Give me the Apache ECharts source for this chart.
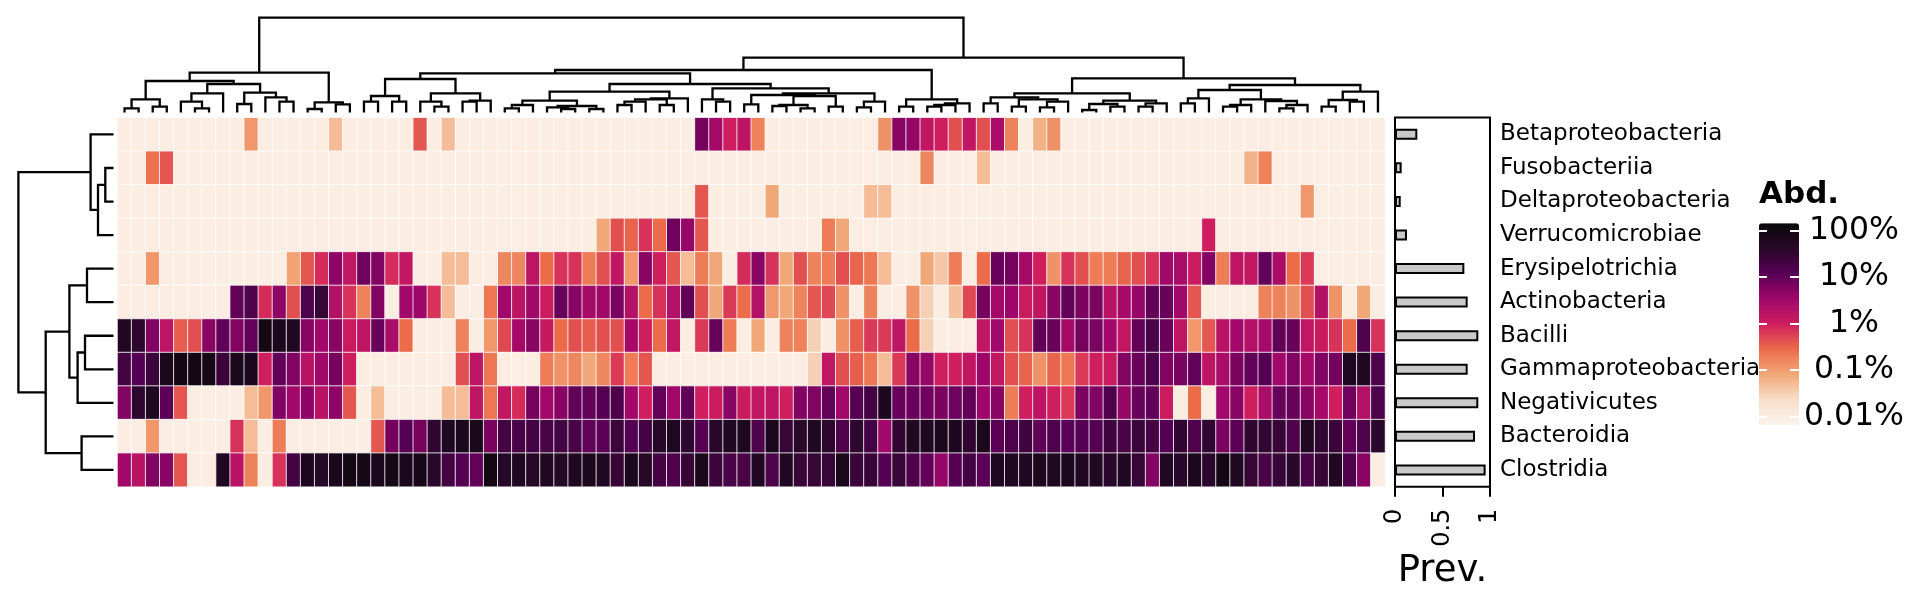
<!DOCTYPE html>
<html><head><meta charset="utf-8">
<script src="https://cdn.jsdelivr.net/npm/echarts@6/dist/echarts.min.js"></script>
<style>html,body{margin:0;padding:0;background:#fff}#c{width:1920px;height:600px}</style>
</head><body><div id="c"></div>
<script>
// ---------- data ----------
const classNames = ['Betaproteobacteria','Fusobacteriia','Deltaproteobacteria','Verrucomicrobiae','Erysipelotrichia','Actinobacteria','Bacilli','Gammaproteobacteria','Negativicutes','Bacteroidia','Clostridia'];
const prevalence = [0.235, 0.07, 0.06, 0.126, 0.73, 0.765, 0.877, 0.765, 0.877, 0.842, 0.954];

// log10(relative abundance in %), -2 = 0.01% ... 2 = 100%, columns in dendrogram order
const betaproteobacteria = [-2,-2,-2,-2,-2,-2,-2,-2,-2,-0.95, -2,-2,-2,-2,-2,-1.3,-2,-2,-2,-2, -2,-0.4,-2,-1.3,-2,-2,-2,-2,-2,-2, -2,-2,-2,-2,-2,-2,-2,-2,-2,-2, -2,0.85,0.45,0,0.2,-0.75,-2,-2,-2,-2, -2,-2,-2,-2,-0.9,0.7,0.6,0.15,0,-0.35, 0.15,-0.35,0.4,-0.75,-2,-1.2,-0.9,-2,-2,-2, -2,-2,-2,-2,-2,-2,-2,-2,-2,-2, -2,-2,-2,-2,-2,-2,-2,-2,-2,-2];
const fusobacteriia = [-2,-2,-0.6,-0.4,-2,-2,-2,-2,-2,-2, -2,-2,-2,-2,-2,-2,-2,-2,-2,-2, -2,-2,-2,-2,-2,-2,-2,-2,-2,-2, -2,-2,-2,-2,-2,-2,-2,-2,-2,-2, -2,-2,-2,-2,-2,-2,-2,-2,-2,-2, -2,-2,-2,-2,-2,-2,-2,-0.8,-2,-2, -2,-1.3,-2,-2,-2,-2,-2,-2,-2,-2, -2,-2,-2,-2,-2,-2,-2,-2,-2,-2, -1.2,-0.75,-2,-2,-2,-2,-2,-2,-2,-2];
const deltaproteobacteria = [-2,-2,-2,-2,-2,-2,-2,-2,-2,-2, -2,-2,-2,-2,-2,-2,-2,-2,-2,-2, -2,-2,-2,-2,-2,-2,-2,-2,-2,-2, -2,-2,-2,-2,-2,-2,-2,-2,-2,-2, -2,-0.4,-2,-2,-2,-2,-1.1,-2,-2,-2, -2,-2,-2,-1.3,-1.3,-2,-2,-2,-2,-2, -2,-2,-2,-2,-2,-2,-2,-2,-2,-2, -2,-2,-2,-2,-2,-2,-2,-2,-2,-2, -2,-2,-2,-2,-0.95,-2,-2,-2,-2,-2];
const verrucomicrobiae = [-2,-2,-2,-2,-2,-2,-2,-2,-2,-2, -2,-2,-2,-2,-2,-2,-2,-2,-2,-2, -2,-2,-2,-2,-2,-2,-2,-2,-2,-2, -2,-2,-2,-2,-1.1,-0.35,-0.5,-0.15,-0.55,0.9, 0.6,-0.4,-2,-2,-2,-2,-2,-2,-2,-2, -0.7,-1.1,-2,-2,-2,-2,-2,-2,-2,-2, -2,-2,-2,-2,-2,-2,-2,-2,-2,-2, -2,-2,-2,-2,-2,-2,-2,0,-2,-2, -2,-2,-2,-2,-2,-2,-2,-2,-2,-2];
const erysipelotrichia = [-2,-2,-0.95,-2,-2,-2,-2,-2,-2,-2, -2,-2,-1.05,-0.4,-0.1,0.65,0.15,0.9,0.75,-0.1, 0.15,-2,-2,-1.3,-1.3,-2,-2,-0.8,-0.8,0.2, -0.55,-0.15,-0.15,-0.7,-0.35,0.15,-0.95,0.7,0,-0.4, -1.3,-0.7,-1.1,-2,-0.1,0.7,-0.15,-1.1,-0.35,-0.75, -0.7,-0.35,-0.5,-0.65,-1.3,-2,-2,-1.1,-1.4,-0.7, -2,-0.55,0.95,0.85,0.45,0,-0.9,-0.15,-0.35,-0.7, -0.7,-0.5,-0.35,-0.15,0.5,0.4,0.05,0.75,-0.7,0.2, 0.15,1.0,0.4,-0.55,-0.2,-2,-2,-2,-2,-2];
const actinobacteria = [-2,-2,-2,-2,-2,-2,-2,-2,1.0,1.2, -0.1,0.65,-0.35,1.2,1.45,0.3,-0.15,-0.75,0.75,-2, 0.5,0.55,-0.15,-1.3,-2,-2,-0.65,0.5,0.2,0.5, 0.05,0.95,0.7,0.45,0.5,0.8,0.3,-0.55,-0.15,0.3, 1.0,-0.35,-1.1,-0.2,-0.55,0.3,-0.95,-1.1,-0.75,-0.4, -0.3,-0.9,-2,-0.75,-2,-2,-0.9,-1.5,-2,-1.35, -0.3,0.85,0.45,0.55,0.05,0.15,0.7,1.0,0.8,0.8, 0.25,0.45,0.6,1.0,0.95,0.5,-0.4,-2,-2,-2, -2,-0.75,-0.75,-0.9,-0.35,0.3,-0.9,-2,-1.1,-2];
const bacilli = [1.75,1.55,0.75,0.2,-0.45,-0.35,0.7,1.0,0.75,1.0, 2.0,1.85,1.75,0.7,0.5,0.7,0.05,0.2,0.95,0.4, -0.55,-2,-2,-2,-0.75,-2,-0.95,-0.3,0.45,0.7, 0.1,-0.55,-0.35,-0.45,-0.35,-0.35,0.45,0,-0.55,0.15, -2,-0.2,0.95,-0.7,-2,-1.1,-2,-0.75,-0.75,-1.5, -2,-0.9,-0.45,-0.2,-0.2,0.2,-0.55,-1.5,-2,-2, -2,0.15,0.5,-0.35,-0.15,1.0,0.95,0.45,0.85,0.8, 0.5,0.15,1.0,1.25,0.95,0.2,-0.95,-0.4,0.25,0.5, 0.3,0.45,1.0,0.95,0.15,0.05,-0.15,-0.55,1.2,-0.15];
const gammaproteobacteria = [1.3,1.1,1.4,1.85,2.0,2.0,1.95,1.4,1.85,1.8, 0,1.0,0.75,0.25,0.5,0.85,0,-2,-2,-2, -2,-2,-2,-2,-0.35,0.2,-0.65,-2,-2,-2, -0.7,-0.9,-0.8,-1.1,-0.8,-0.2,-0.7,-0.4,-2,-2, -2,-2,-2,-2,-2,-2,-2,-2,-2,-1.5, 0.15,-0.35,-0.45,-0.65,-1.3,-0.2,0.7,0.6,0,0, 0.15,0.55,0.15,-0.35,-0.5,-0.9,-0.5,-0.65,-0.2,0, 0.05,0.75,0.95,1.2,0.75,0.8,1.0,0.2,0.4,0.8, 1.0,1.1,0.5,0.75,0.45,0.75,0.85,1.75,1.75,1.2];
const negativicutes = [0.75,1.55,1.75,1.05,-0.4,-2,-2,-2,-2,-1.3, -0.95,0.75,0.5,0.65,0.25,0.65,-0.4,-2,-1.3,-2, -2,-2,-2,-1.3,-1.3,0.2,-0.65,0.15,-0.1,0.85, 0.5,0.7,1.0,1.0,1.1,1.2,0.5,0,1.0,0.5, 1.0,0,0.05,0.7,0.05,0.15,0.2,0,0.75,0.75, 1.0,0.5,1.1,1.3,1.8,0.95,0.95,0.9,0.8,0.9, 1.0,0.55,0.7,-0.7,0,0.2,0,-0.2,0.8,0.75, 1.2,0.6,0.95,1.0,0.05,-2,-0.55,-2,0.5,0.7, 0,0.4,0.95,0.95,0.7,0.45,0,0.9,0.3,1.2];
const bacteroidia = [-2,-2,-0.95,-2,-2,-2,-2,-2,-0.15,-1.3, -2,-0.7,-2,-2,-2,-2,-2,-2,-0.4,0.85, 1.1,0.85,1.5,1.75,1.85,1.85,0.8,1.3,1.25,1.3, 1.25,1.3,1.25,1.0,1.05,1.4,1.1,1.3,1.65,1.75, 1.55,1.1,1.6,1.75,1.8,1.2,1.85,1.45,1.6,1.75, 1.55,1.2,1.55,1.3,0.5,1.5,1.75,1.8,1.85,1.8, 1.5,1.85,1.05,1.2,1.35,1.0,1.2,1.05,1.1,1.1, 1.35,1.25,1.4,1.3,1.1,1.5,1.2,1.5,0.8,1.05, 1.5,1.5,1.45,1.2,1.75,1.5,1.4,1.0,1.2,1.6];
const clostridia = [0.5,0.25,0.75,0.7,-0.4,-2,-2,1.75,0.25,-0.75, -2,-0.15,1.3,1.8,1.65,1.85,2.0,1.95,1.85,1.95, 1.85,1.95,1.6,1.3,1.1,1.0,2.0,1.65,1.75,1.65, 1.75,1.65,1.75,1.85,1.75,1.45,1.85,1.65,1.3,1.2, 1.45,1.85,1.4,1.25,1.25,1.75,1.2,1.75,1.45,1.45, 1.45,1.85,1.4,1.45,1.1,1.45,1.2,1.0,0.6,1.1, 1.3,1.05,1.75,1.75,1.75,1.85,1.75,1.85,1.75,1.75, 1.6,1.75,1.45,0.75,1.75,1.6,1.85,1.6,2.0,1.75, 1.45,1.25,1.45,1.6,1.25,1.45,1.75,1.2,0.7,-2];

const abundanceRows = [betaproteobacteria, fusobacteriia, deltaproteobacteria, verrucomicrobiae, erysipelotrichia, actinobacteria, bacilli, gammaproteobacteria, negativicutes, bacteroidia, clostridia];
const sampleIds = betaproteobacteria.map((_, i) => 'S' + (i + 1));

const abundanceTicks = [2, 1, 0, -1, -2];
const abundanceTickLabels = ['100%', '10%', '1%', '0.1%', '0.01%'];
const prevTicks = [0, 0.5, 1];

// hclust-style merges: negative = leaf (1-based), positive = earlier merge (1-based); third = height
const sampleMerges = [
 [-1,-2,4.2],[-3,-4,5.8],[1,2,13.2],[-6,-7,4.2],[-5,4,10.8],[5,-8,19.2],[-9,-10,8.5],[-12,-13,10.8],[-11,8,15.2],[7,9,19.8],
 [6,10,28.5],[3,11,31.5],[-14,-15,3.5],[-16,-17,8.2],[13,14,10.2],[12,15,39.8],
 [-18,-19,10.8],[-20,-21,10.8],[17,18,16.5],[-23,-24,5.8],[-22,20,10.8],[-25,-26,10.8],[22,-27,11.8],[21,23,19.2],[19,24,33.5],
 [-28,-29,4.2],[26,-30,7.5],[-32,-33,3.5],[-31,28,5.2],[-34,-35,3.5],[29,30,6.5],[27,31,11.8],
 [-36,-37,7.5],[33,-38,10.8],[-39,-40,7.5],[34,35,13.2],[36,-41,14.2],[32,37,20.8],
 [-43,-44,10.8],[-42,39,13.2],
 [-45,-46,8.2],[-47,-48,6.5],[-49,-50,4.2],[42,43,7.5],[-51,-52,5.8],[44,45,16.5],[41,46,17.5],
 [-53,-54,5.2],[48,-55,10.8],[47,49,19.2],[40,50,24.2],[38,51,28.5],[25,52,39.2],
 [-56,-57,5.8],[-58,-59,5.8],[55,-60,7.5],[56,-61,9.2],[54,57,13.2],[53,58,42.5],
 [-62,-63,9.2],[-64,-65,5.8],[-66,-67,5.2],[62,-68,10.8],[61,63,13.2],[60,64,15.2],
 [-69,-70,2.5],[-71,-72,5.8],[66,67,8.5],[-73,-74,5.8],[69,-75,9.2],[68,70,11.8],[65,71,19.2],
 [-76,-77,9.2],[73,-78,14.2],[-79,-80,5.8],[75,-81,7.5],[-83,-84,4.2],[77,-85,7.5],[-82,78,11.5],[76,79,13.2],[74,80,22.5],
 [-86,-87,5.8],[-88,-89,10.8],[82,83,12.5],[84,-90,20.8],[81,85,27.5],[72,86,34.2],[59,87,54.8],[16,88,94.8]
];
const classMerges = [
 [-2,-3,8.2],[1,-4,15.5],[-1,2,22.9],[-5,-6,26.5],[-7,-8,28.5],[5,-9,35.9],[4,6,44.1],[-10,-11,31.9],[7,8,67.8],[3,9,95.1]
];

// ---------- helpers ----------
function treeSegments(merges) {
  const pos = [], hts = [], segs = [];
  const node = r => r < 0 ? { p: -r - 0.5, h: 0 } : { p: pos[r - 1], h: hts[r - 1] };
  merges.forEach(([a, b, h]) => {
    const A = node(a), B = node(b);
    segs.push([A.p, A.h, B.p, B.h, h]);
    pos.push((A.p + B.p) / 2); hts.push(h);
  });
  return segs;
}
const heatData = [];
abundanceRows.forEach((row, r) => row.forEach((v, c) => heatData.push([c, r, v])));

const FONT = 'DejaVu Sans';
const rampColors = ['#FCF4EC', '#F8DECA', '#F1A878', '#EC6C4A', '#D01E5E', '#9E076A', '#580055', '#28082A', '#0A080A'];
const lineStyle = { stroke: '#000', lineWidth: 2.3, fill: null, lineJoin: 'miter' };

const chart = echarts.init(document.getElementById('c'), null, { renderer: 'canvas' });
chart.setOption({
  animation: false,
  backgroundColor: '#fff',
  textStyle: { fontFamily: FONT, color: '#000' },
  title: { text: 'Abd.', left: 1759, top: 179, padding: 0, textStyle: { fontFamily: FONT, fontSize: 31, fontWeight: 'bold', color: '#000' } },
  grid: [
    { left: 117.5, top: 117.7, width: 1267.5, height: 369, outerBoundsMode: 'none' },
    { left: 117.5, top: 17.7, width: 1267.5, height: 94.8, outerBoundsMode: 'none' },
    { left: 18.4, top: 117.7, width: 95.1, height: 369, outerBoundsMode: 'none' },
    { left: 1395, top: 117.5, width: 95, height: 369.2, show: true, borderColor: '#000', borderWidth: 2, backgroundColor: 'transparent', outerBoundsMode: 'none' },
    { left: 1759, top: 230.7, width: 40, height: 186, outerBoundsMode: 'none' }
  ],
  xAxis: [
    { type: 'category', gridIndex: 0, data: sampleIds, show: false },
    { type: 'value', gridIndex: 1, min: 0, max: sampleIds.length, show: false },
    { type: 'value', gridIndex: 2, min: 0, max: 95.1, inverse: true, show: false },
    { type: 'value', gridIndex: 3, min: 0, max: 1, interval: 0.5,
      axisLine: { show: false }, splitLine: { show: false },
      axisTick: { show: true, length: 10, lineStyle: { color: '#000', width: 2 } },
      axisLabel: { rotate: 90, fontSize: 24, margin: 22, color: '#000', fontFamily: FONT,
        formatter: v => prevTicks.includes(v) ? String(v) : '' },
      name: 'Prev.', nameLocation: 'middle', nameGap: 66, nameMoveOverlap: false,
      nameTextStyle: { fontSize: 37, color: '#000', fontFamily: FONT } },
    { type: 'value', gridIndex: 4, min: 0, max: 1, show: false }
  ],
  yAxis: [
    { type: 'category', gridIndex: 0, data: classNames, inverse: true, show: false },
    { type: 'value', gridIndex: 1, min: 0, max: 94.8, show: false },
    { type: 'value', gridIndex: 2, min: 0, max: classNames.length, inverse: true, show: false },
    { type: 'category', gridIndex: 3, data: classNames, inverse: true, position: 'right',
      axisLine: { show: false }, axisTick: { show: false },
      axisLabel: { fontSize: 23, color: '#000', margin: 10, interval: 0, fontFamily: FONT } },
    { type: 'value', gridIndex: 4, min: -2, max: 2, interval: 1, position: 'left', z: 10,
      axisLine: { show: false }, splitLine: { show: false }, axisLabel: { show: false },
      axisTick: { show: true, inside: true, length: 8, lineStyle: { color: '#fff', width: 2 } } },
    { type: 'value', gridIndex: 4, min: -2, max: 2, interval: 1, position: 'right', z: 10,
      axisLine: { show: false }, splitLine: { show: false },
      axisTick: { show: true, inside: true, length: 9, lineStyle: { color: '#fff', width: 2 } },
      axisLabel: { show: true, fontSize: 31.5, margin: 55, align: 'center', color: '#000', fontFamily: FONT,
        formatter: v => { const i = abundanceTicks.indexOf(v); return i >= 0 ? abundanceTickLabels[i] : ''; } } }
  ],
  visualMap: {
    type: 'continuous', seriesIndex: 0, dimension: 2, min: -2.18, max: 2.16,
    left: 1759, top: 223.3, itemWidth: 40, itemHeight: 201.7, padding: 0,
    calculable: false, hoverLink: false, z: 2,
    inRange: { color: rampColors }
  },
  series: [
    { type: 'heatmap', xAxisIndex: 0, yAxisIndex: 0, data: heatData,
      itemStyle: { borderColor: '#fff', borderWidth: 0.8 }, emphasis: { disabled: true } },
    { type: 'custom', xAxisIndex: 1, yAxisIndex: 1, data: treeSegments(sampleMerges), silent: true,
      renderItem: (params, api) => {
        const xl = api.value(0), hl = api.value(1), xr = api.value(2), hr = api.value(3), h = api.value(4);
        return { type: 'polyline', shape: { points: [api.coord([xl, hl]), api.coord([xl, h]), api.coord([xr, h]), api.coord([xr, hr])] }, style: lineStyle };
      } },
    { type: 'custom', xAxisIndex: 2, yAxisIndex: 2, data: treeSegments(classMerges), silent: true,
      renderItem: (params, api) => {
        const yl = api.value(0), hl = api.value(1), yr = api.value(2), hr = api.value(3), h = api.value(4);
        return { type: 'polyline', shape: { points: [api.coord([hl, yl]), api.coord([h, yl]), api.coord([h, yr]), api.coord([hr, yr])] }, style: lineStyle };
      } },
    { type: 'bar', xAxisIndex: 3, yAxisIndex: 3, data: prevalence, barWidth: 11, silent: true,
      itemStyle: { color: '#C9C9C9', borderColor: '#000', borderWidth: 2 } }
  ]
});
</script>
</body></html>
